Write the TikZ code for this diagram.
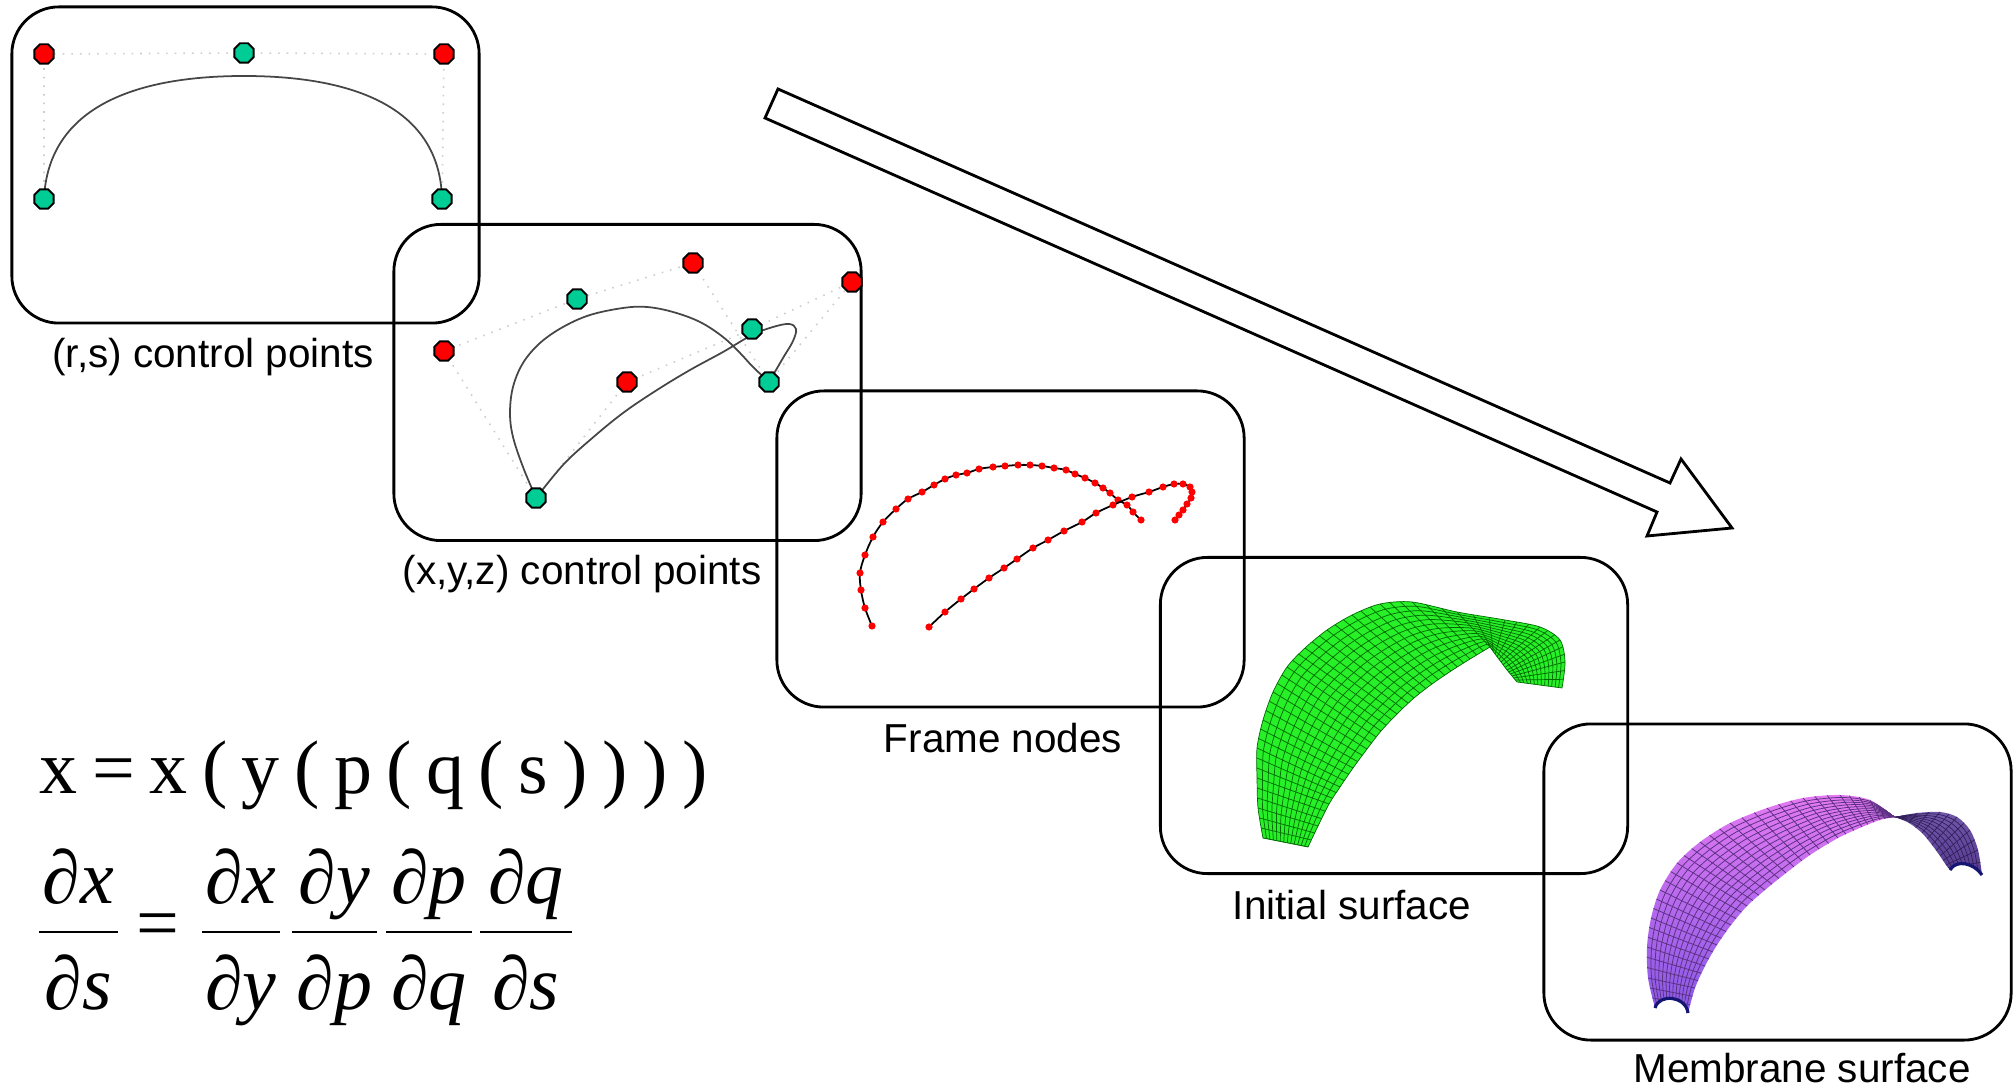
\documentclass[tikz,border=0pt]{standalone}
\usepackage{fontspec}
\setmainfont{Liberation Sans}
\newfontfamily\formulafont{Liberation Serif}
\usetikzlibrary{calc,shapes.geometric}

\definecolor{ptred}{RGB}{255,0,0}
\definecolor{ptgreen}{RGB}{0,204,150}
\definecolor{netgray}{RGB}{205,205,205}
\definecolor{curvegray}{RGB}{70,70,70}
\definecolor{surfgreen}{RGB}{40,240,40}
\definecolor{gridgreen}{RGB}{0,105,0}
\definecolor{pinktop}{RGB}{230,122,242}
\definecolor{pinkmid}{RGB}{196,104,238}
\definecolor{violetbot}{RGB}{132,88,230}
\definecolor{backviolet}{RGB}{92,62,158}
\definecolor{gridviolet}{RGB}{92,48,130}
\definecolor{gridback}{RGB}{50,32,90}
\definecolor{footblue}{RGB}{20,20,115}

\newcommand\fgap{\hspace{0.145cm}}

\tikzset{
  panelbox/.style={draw, line width=0.8pt, rounded corners=0.47cm,
    minimum width=4.67cm, minimum height=3.16cm, inner sep=0pt},
  captiontext/.style={font=\fontsize{11.5pt}{14pt}\selectfont, anchor=base, inner sep=0pt},
  formulatext/.style={font=\formulafont\fontsize{21.6pt}{26pt}\selectfont, inner sep=0pt},
  cpoint/.style={regular polygon, regular polygon sides=8, minimum size=0.21cm,
    inner sep=0pt, draw=black, line width=0.55pt},
  redpt/.style={cpoint, fill=ptred},
  grnpt/.style={cpoint, fill=ptgreen},
  cnet/.style={netgray, dotted, line width=0.45pt},
  splinecurve/.style={curvegray, line width=0.5pt},
  framecurve/.style={black, line width=0.5pt, mark=*, mark size=0.75pt,
    mark options={fill=ptred, draw=ptred}},
  ggrid/.style={gridgreen, line width=0.2pt},
  pgrid/.style={gridviolet, line width=0.22pt},
  bgrid/.style={gridback, line width=0.2pt},
  footedge/.style={footblue, line width=0.9pt},
  bigarrow/.style={draw, line width=0.8pt, fill=white, line join=miter},
  fracbar/.style={line width=0.8pt},
}

\begin{document}
\begin{tikzpicture}[x=0.01cm, y=-0.01cm]
\useasboundingbox (0,0) rectangle (2016,1092);

% ---------- panels ----------
\node[panelbox] (pan1) at (245.5,165) {};
\node[panelbox] (pan2) at (627.5,382.5) {};
\node[panelbox] (pan3) at (1010.5,549) {};
\node[panelbox] (pan4) at (1394,715.5) {};
\node[panelbox] (pan5) at (1777.5,882) {};

% ---------- captions ----------
\node[captiontext] (cap1) at (213,368) {(r,s) control points};
\node[captiontext] (cap2) at (582,585) {(x,y,z) control points};
\node[captiontext] (cap3) at (1003,752) {Frame nodes};
\node[captiontext] (cap4) at (1352,919) {Initial surface};
\node[captiontext] (cap5) at (1802,1082) {Membrane surface};

% ---------- block arrow ----------
\coordinate (ta) at (778,89);
\coordinate (sa) at (1670,483);
\coordinate (ha) at (1681,459);
\coordinate (tip) at (1732,528);
\coordinate (hb) at (1647,536);
\coordinate (sb) at (1657,512);
\coordinate (tb) at (765,118);
\draw[bigarrow] (ta) -- (sa) -- (ha) -- (tip) -- (hb) -- (sb) -- (tb) -- cycle;

% ---------- (r,s) control points ----------
\coordinate (q1a) at (44,199);
\coordinate (q1b) at (44,54);
\coordinate (q1c) at (244,53);
\coordinate (q1d) at (444,54);
\coordinate (q1e) at (442,199);
\draw[cnet] (q1a) -- (q1b) -- (q1c) -- (q1d) -- (q1e);
\draw[splinecurve] (q1a) .. controls (48,110) and (130,76) .. (244,76)
                         .. controls (358,76) and (440,110) .. (q1e);
\node[grnpt] (g1a) at (q1a) {};
\node[redpt] (r1a) at (q1b) {};
\node[grnpt] (g1b) at (q1c) {};
\node[redpt] (r1b) at (q1d) {};
\node[grnpt] (g1c) at (q1e) {};

% ---------- (x,y,z) control points ----------
\coordinate (pH) at (536,498);
\coordinate (pA) at (444,351);
\coordinate (pB) at (577,299);
\coordinate (pC) at (693,263);
\coordinate (pD) at (852,282);
\coordinate (pE) at (752,329);
\coordinate (pF) at (769,382);
\coordinate (pG) at (627,382);
\draw[cnet] (pH) -- (pA) -- (pB) -- (pC) -- (pF);
\draw[cnet] (pH) -- (pG) -- (pE) -- (pD) -- (pF);
\draw[splinecurve] plot[smooth, tension=0.6] coordinates {(pH) (523,467) (513,437) (510,413)
  (513,387) (523,363) (540,343) (563,327) (590,315) (623,308) (647,307) (673,312)
  (700,322) (723,337) (740,353) (753,367) (pF)};
\draw[splinecurve] plot[smooth, tension=0.6] coordinates {(pH) (563,465) (590,440) (623,413)
  (657,390) (690,370) (723,352) (752,335) (773,327) (789,324) (796,329) (793,341)
  (783,358) (pF)};
\node[grnpt] (gH) at (pH) {};
\node[redpt] (rA) at (pA) {};
\node[grnpt] (gB) at (pB) {};
\node[redpt] (rC) at (pC) {};
\node[redpt] (rD) at (pD) {};
\node[grnpt] (gE) at (pE) {};
\node[grnpt] (gF) at (pF) {};
\node[redpt] (rG) at (pG) {};

% ---------- frame nodes ----------
\draw[framecurve] plot[smooth, tension=0.6] coordinates {(872,626) (865,608) (861,590)
  (860,573) (865,555) (873,537) (883,522) (896,509) (908,499) (922,492) (934,485)
  (945,479) (956,475) (967,473) (979,469) (993,467) (1005,466) (1018,465) (1030,465)
  (1042,466) (1054,468) (1066,470) (1075,474) (1085,478) (1095,483) (1103,488)
  (1110,493) (1118,500) (1127,505) (1133,512) (1141,520)};
\draw[framecurve] plot[smooth, tension=0.6] coordinates {(929,627) (945,612) (961,599)
  (974,589) (989,578) (1004,568) (1017,559) (1033,548) (1048,540) (1064,531)
  (1082,522) (1096,513) (1113,505) (1132,497) (1149,492) (1163,487) (1174,484)
  (1183,484) (1190,487) (1192,492) (1191,498) (1187,504) (1183,510) (1179,515)
  (1175,520)};

% ---------- initial surface (green mesh) ----------
\foreach \k/\x/\y in {0/1263/838,1/1258/808,2/1257/778,3/1257/748,4/1263/720,
  5/1273/692,6/1287/667,7/1305/648,8/1327/630,9/1352/615,10/1380/604,11/1412/602,
  12/1457/612,13/1505/620,14/1540/627,15/1560/640,16/1565/662,17/1562/688}
  \coordinate (gO\k) at (\x,\y);
\foreach \k/\x/\y in {0/1308/847,1/1318/826,2/1329/804,3/1340/787,4/1353/768,
  5/1367/749,6/1381/731,7/1397/714,8/1414/698,9/1432/684,10/1451/671,11/1470/659,
  12/1490/647,13/1495/654,14/1501/662,15/1507/670,16/1512/676,17/1517/682}
  \coordinate (gI\k) at (\x,\y);
\def\greenshape{plot[smooth, tension=0.5] coordinates {(gO0) (gO1) (gO2) (gO3) (gO4)
  (gO5) (gO6) (gO7) (gO8) (gO9) (gO10) (gO11) (gO12) (gO13) (gO14) (gO15) (gO16) (gO17)}
  -- (gI17) -- (gI16) -- (gI15) -- (gI14) -- (gI13) -- (gI12)
  -- plot[smooth, tension=0.5] coordinates {(gI12) (gI11) (gI10) (gI9) (gI8) (gI7)
  (gI6) (gI5) (gI4) (gI3) (gI2) (gI1) (gI0)} -- cycle}
\fill[surfgreen] \greenshape;
\begin{scope}
  \clip \greenshape;
  \foreach \j in {1,...,12} {
    \pgfmathsetmacro\v{\j/13}
    \foreach \k in {0,...,17} \coordinate (gL\k) at ($(gO\k)!\v!(gI\k)$);
    \draw[ggrid] plot[smooth, tension=0.5] coordinates {(gL0) (gL1) (gL2) (gL3) (gL4)
      (gL5) (gL6) (gL7) (gL8) (gL9) (gL10) (gL11) (gL12) (gL13) (gL14) (gL15) (gL16) (gL17)};
  }
  \foreach \k [evaluate=\k as \n using int(\k+1)] in {0,...,16} {
    \foreach \f in {0,0.333,0.667} {
      \coordinate (ca) at ($(gO\k)!\f!(gO\n)$);
      \coordinate (cb) at ($(gI\k)!\f!(gI\n)$);
      \draw[ggrid] ($(ca)!-0.1!(cb)$) -- ($(cb)!-0.1!(ca)$);
    }
  }
\end{scope}
\draw[ggrid] \greenshape;

% ---------- membrane surface (violet mesh) ----------
% back leg
\foreach \k/\x/\y in {0/1895/817,1/1917/813,2/1940/812,3/1957/817,4/1970/830,
  5/1978/850,6/1982/875}
  \coordinate (bO\k) at (\x,\y);
\foreach \k/\x/\y in {0/1895/817,1/1909/823,2/1922/833,3/1932/845,4/1940/856,
  5/1946/865,6/1950/870}
  \coordinate (bI\k) at (\x,\y);
\def\backshape{plot[smooth, tension=0.5] coordinates {(bO0) (bO1) (bO2) (bO3) (bO4)
  (bO5) (bO6)} .. controls (1974,863) and (1956,859) .. (bI6)
  -- plot[smooth, tension=0.5] coordinates {(bI6) (bI5) (bI4) (bI3) (bI2) (bI1) (bI0)}
  -- cycle}
\begin{scope}
  \clip \backshape;
  \shade[top color=backviolet!85!white, bottom color=backviolet!90!black]
    (1890,805) rectangle (1990,880);
  \foreach \j in {1,...,8} {
    \pgfmathsetmacro\v{\j/9}
    \foreach \k in {0,...,6} \coordinate (bL\k) at ($(bO\k)!\v!(bI\k)$);
    \draw[bgrid] plot[smooth, tension=0.5] coordinates {(bL0) (bL1) (bL2) (bL3) (bL4)
      (bL5) (bL6)};
  }
  \foreach \k [evaluate=\k as \n using int(\k+1)] in {0,...,5} {
    \foreach \f in {0,0.5} {
      \coordinate (ca) at ($(bO\k)!\f!(bO\n)$);
      \coordinate (cb) at ($(bI\k)!\f!(bI\n)$);
      \draw[bgrid] ($(ca)!-0.1!(cb)$) -- ($(cb)!-0.1!(ca)$);
    }
  }
\end{scope}
\draw[footedge] (bO6) .. controls (1974,863) and (1956,859) .. (bI6);

% front arch
\foreach \k/\x/\y in {0/1655/1008,1/1648/978,2/1647/947,3/1651/918,4/1660/890,
  5/1677/863,6/1700/842,7/1730/823,8/1767/808,9/1803/798,10/1840/795,11/1870/800,
  12/1895/817}
  \coordinate (mO\k) at (\x,\y);
\foreach \k/\x/\y in {0/1688/1013,1/1695/988,2/1705/966,3/1717/945,4/1731/925,
  5/1747/906,6/1765/890,7/1786/873,8/1810/855,9/1838/838,10/1862/827,11/1880/820,
  12/1895/817}
  \coordinate (mI\k) at (\x,\y);
\def\frontshape{plot[smooth, tension=0.5] coordinates {(mO0) (mO1) (mO2) (mO3) (mO4)
  (mO5) (mO6) (mO7) (mO8) (mO9) (mO10) (mO11) (mO12)}
  -- plot[smooth, tension=0.5] coordinates {(mI12) (mI11) (mI10) (mI9) (mI8) (mI7)
  (mI6) (mI5) (mI4) (mI3) (mI2) (mI1) (mI0)}
  .. controls (1686,996) and (1659,993) .. cycle}
\begin{scope}
  \clip \frontshape;
  \shade[top color=pinktop, middle color=pinkmid, bottom color=violetbot]
    (1640,790) rectangle (1900,1020);
  \foreach \j in {1,...,12} {
    \pgfmathsetmacro\v{\j/13}
    \foreach \k in {0,...,12} \coordinate (mL\k) at ($(mO\k)!\v!(mI\k)$);
    \draw[pgrid] plot[smooth, tension=0.5] coordinates {(mL0) (mL1) (mL2) (mL3) (mL4)
      (mL5) (mL6) (mL7) (mL8) (mL9) (mL10) (mL11) (mL12)};
  }
  \foreach \k [evaluate=\k as \n using int(\k+1)] in {0,...,11} {
    \foreach \f in {0,0.333,0.667} {
      \coordinate (ca) at ($(mO\k)!\f!(mO\n)$);
      \coordinate (cb) at ($(mI\k)!\f!(mI\n)$);
      \draw[pgrid] ($(ca)!-0.1!(cb)$) -- ($(cb)!-0.1!(ca)$);
    }
  }
\end{scope}
\draw[footedge] (mI0) .. controls (1686,996) and (1659,993) .. (mO0);

% ---------- chain rule ----------
\node[formulatext, anchor=base west] (chain) at (39,793)
  {x\fgap=\fgap x\fgap(\fgap y\fgap(\fgap p\fgap(\fgap q\fgap(\fgap s\fgap)\fgap)\fgap)\fgap)};

\node[formulatext, anchor=base] (n1) at (78.5,903) {\itshape ∂x};
\node[formulatext, anchor=base] (d1) at (78.5,1009) {\itshape ∂s};
\node[formulatext] (eq) at (158,931) {=};
\node[formulatext, anchor=base] (n2) at (241,903) {\itshape ∂x};
\node[formulatext, anchor=base] (d2) at (241,1009) {\itshape ∂y};
\node[formulatext, anchor=base] (n3) at (334.5,903) {\itshape ∂y};
\node[formulatext, anchor=base] (d3) at (334.5,1009) {\itshape ∂p};
\node[formulatext, anchor=base] (n4) at (429,903) {\itshape ∂p};
\node[formulatext, anchor=base] (d4) at (429,1009) {\itshape ∂q};
\node[formulatext, anchor=base] (n5) at (526,903) {\itshape ∂q};
\node[formulatext, anchor=base] (d5) at (526,1009) {\itshape ∂s};
\draw[fracbar] (39,932) -- (118,932);
\draw[fracbar] (202,932) -- (280,932);
\draw[fracbar] (292,932) -- (377,932);
\draw[fracbar] (386,932) -- (472,932);
\draw[fracbar] (480,932) -- (572,932);
\end{tikzpicture}
\end{document}
